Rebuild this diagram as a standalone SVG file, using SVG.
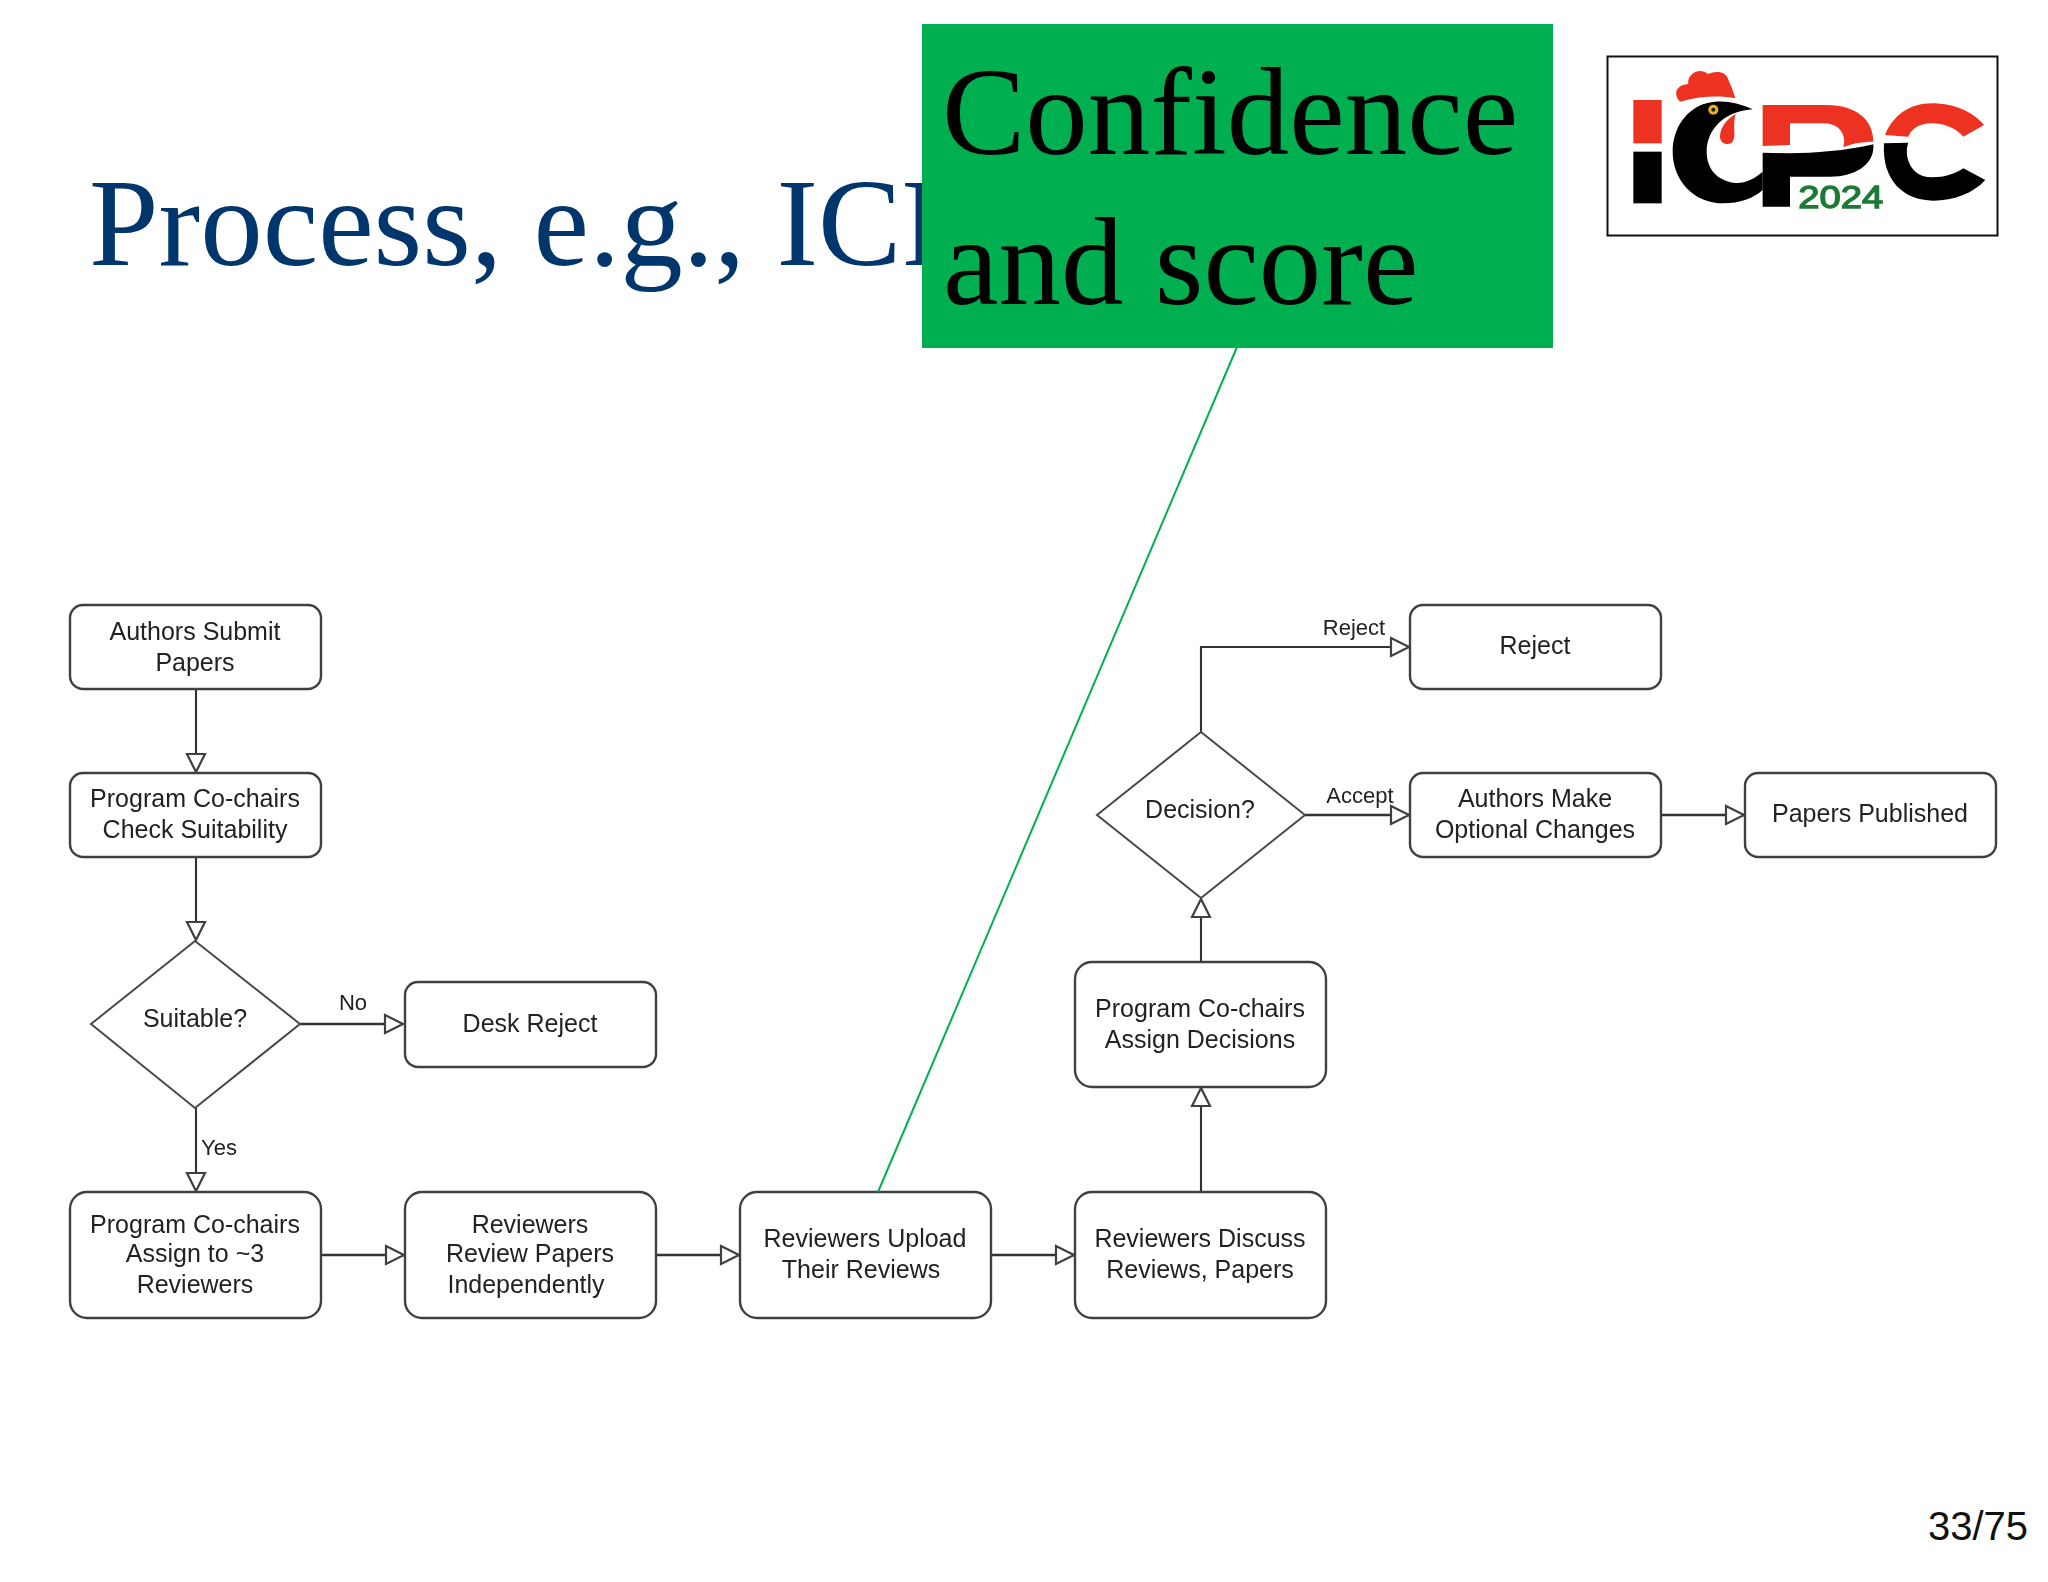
<svg xmlns="http://www.w3.org/2000/svg" width="2048" height="1582" viewBox="0 0 2048 1582">
<style>
.n{fill:#fff;stroke:#404040;stroke-width:2.4}
.d{fill:#fff;stroke:#4a4a4a;stroke-width:2}
.t{font-family:"Liberation Sans",Arial,sans-serif;font-size:25px;fill:#222;text-anchor:middle}
.l{font-family:"Liberation Sans",Arial,sans-serif;font-size:22px;fill:#222;text-anchor:middle}
.c{fill:none;stroke:#333;stroke-width:2.6}
.v{stroke-width:2.1}
.big{font-family:"Liberation Serif","Times New Roman",serif;font-size:125px}
.r{fill:#ee3124}.k{fill:#000}
</style>
<defs>
<marker id="a" viewBox="0 0 22 22" refX="20" refY="11" markerUnits="userSpaceOnUse" markerWidth="22" markerHeight="22" orient="auto" overflow="visible"><path d="M2 2L20 11L2 20Z" fill="#fff" stroke="#404040" stroke-width="2.2"/></marker>
<filter id="soft" x="-5%" y="-5%" width="110%" height="110%"><feGaussianBlur stdDeviation="0.45"/></filter>
<filter id="soft2" x="-5%" y="-5%" width="110%" height="110%"><feGaussianBlur stdDeviation="2"/></filter>
</defs>
<rect width="2048" height="1582" fill="#fff"/>
<text id="title" x="89" y="265" class="big" fill="#00366c">Process, e.g., ICP</text>
<g id="diagram" filter="url(#soft)">
<g id="connectors">
<path class="c v" marker-end="url(#a)" d="M196 689V772"/>
<path class="c v" marker-end="url(#a)" d="M196 857V940"/>
<path class="c" marker-end="url(#a)" d="M300 1024H403"/>
<path class="c v" marker-end="url(#a)" d="M196 1108V1191"/>
<path class="c" marker-end="url(#a)" d="M322 1255H404"/>
<path class="c" marker-end="url(#a)" d="M657 1255H739"/>
<path class="c" marker-end="url(#a)" d="M992 1255H1074"/>
<path class="c v" marker-end="url(#a)" d="M1201 1192V1088"/>
<path class="c v" marker-end="url(#a)" d="M1201 961V899"/>
<path class="c v" marker-end="url(#a)" d="M1201 732V647H1409"/>
<path class="c" marker-end="url(#a)" d="M1305 815H1409"/>
<path class="c" marker-end="url(#a)" d="M1662 815H1744"/>
<text class="l" x="353" y="1010">No</text>
<text class="l" x="219" y="1155">Yes</text>
<text class="l" x="1354" y="635">Reject</text>
<text class="l" x="1360" y="803">Accept</text>
</g>
<g id="n-submit"><rect class="n" x="70" y="605" width="251" height="84" rx="13"/><text class="t" x="195" y="640">Authors Submit</text><text class="t" x="195" y="671">Papers</text></g>
<g id="n-check"><rect class="n" x="70" y="773" width="251" height="84" rx="13"/><text class="t" x="195" y="807">Program Co-chairs</text><text class="t" x="195" y="838">Check Suitability</text></g>
<g id="n-suitable"><path class="d" d="M195 941L300 1024L195 1108L91 1024Z"/><text class="t" x="195" y="1027">Suitable?</text></g>
<g id="n-desk"><rect class="n" x="405" y="982" width="251" height="85" rx="13"/><text class="t" x="530" y="1032">Desk Reject</text></g>
<g id="n-assign"><rect class="n" x="70" y="1192" width="251" height="126" rx="17"/><text class="t" x="195" y="1233">Program Co-chairs</text><text class="t" x="195" y="1262">Assign to ~3</text><text class="t" x="195" y="1293">Reviewers</text></g>
<g id="n-review"><rect class="n" x="405" y="1192" width="251" height="126" rx="17"/><text class="t" x="530" y="1233">Reviewers</text><text class="t" x="530" y="1262">Review Papers</text><text class="t" x="526" y="1293">Independently</text></g>
<g id="n-upload"><rect class="n" x="740" y="1192" width="251" height="126" rx="17"/><text class="t" x="865" y="1247">Reviewers Upload</text><text class="t" x="861" y="1278">Their Reviews</text></g>
<g id="n-discuss"><rect class="n" x="1075" y="1192" width="251" height="126" rx="17"/><text class="t" x="1200" y="1247">Reviewers Discuss</text><text class="t" x="1200" y="1278">Reviews, Papers</text></g>
<g id="n-decisions"><rect class="n" x="1075" y="962" width="251" height="125" rx="17"/><text class="t" x="1200" y="1017">Program Co-chairs</text><text class="t" x="1200" y="1048">Assign Decisions</text></g>
<g id="n-decision"><path class="d" d="M1201 732L1305 815L1201 898L1097 815Z"/><text class="t" x="1200" y="818">Decision?</text></g>
<g id="n-reject"><rect class="n" x="1410" y="605" width="251" height="84" rx="13"/><text class="t" x="1535" y="654">Reject</text></g>
<g id="n-optional"><rect class="n" x="1410" y="773" width="251" height="84" rx="13"/><text class="t" x="1535" y="807">Authors Make</text><text class="t" x="1535" y="838">Optional Changes</text></g>
<g id="n-published"><rect class="n" x="1745" y="773" width="251" height="84" rx="13"/><text class="t" x="1870" y="822">Papers Published</text></g>
</g>
<line id="callout-line" x1="1237" y1="347" x2="878" y2="1192" stroke="#00b050" stroke-width="2"/>
<g id="callout"><rect x="922" y="24" width="631" height="324" fill="#00b050"/>
<text class="big" x="942" y="154" fill="#000">Confidence</text>
<text class="big" x="943" y="304" fill="#000">and score</text></g>
<g id="logo">
<rect x="1607.500" y="56.500" width="390" height="179" fill="#fff" stroke="#111" stroke-width="2"/>
<g transform="translate(1580 40) scale(.33333)" filter="url(#soft2)">
<rect class="r" x="160" y="180" width="85" height="130"/>
<rect class="k" x="160" y="335" width="85" height="155"/>
<path class="r" d="M300 185C280 165 285 135 325 132C320 105 355 78 385 102C405 92 440 92 446 122C455 140 462 160 466 175C420 165 355 168 300 185Z"/>
<path class="k" d="M518 208C470 185 420 178 380 190C320 205 278 265 278 335C278 420 340 490 430 490C480 490 520 475 548 450V395C520 420 490 432 460 428C410 420 380 385 380 335C380 280 420 215 518 208Z"/>
<path class="r" d="M468 222C440 235 420 265 420 290C420 308 440 318 455 308C472 292 455 250 468 222Z"/>
<circle cx="400" cy="209" r="15" fill="#e8b020"/><circle cx="400" cy="209" r="6" fill="#222"/>
<path class="r" d="M548 195H740C830 195 880 240 880 305C840 305 810 312 790 322C800 285 780 250 730 250H630V315L548 318Z"/>
<path class="k" d="M548 338L630 340C700 340 800 332 880 313C885 370 830 410 750 410H630V500H548Z"/>
<path class="r" d="M915 285C940 225 990 190 1055 190C1120 190 1180 215 1212 255L1150 290C1125 262 1090 250 1055 250C1020 250 995 265 985 290Z"/>
<path class="k" d="M912 310L985 308C972 340 985 410 1055 412C1095 412 1125 402 1150 385L1216 420C1180 460 1120 482 1060 482C970 482 905 420 912 310Z"/>
<text x="655" y="503" font-family="'Liberation Sans',Arial,sans-serif" font-size="96" textLength="255" lengthAdjust="spacingAndGlyphs" fill="#1f7a35" stroke="#1f7a35" stroke-width="4">2024</text>
</g></g>
<text id="page" x="2028" y="1540" font-family="'Liberation Sans',Arial,sans-serif" font-size="40" text-anchor="end" fill="#111">33/75</text>
</svg>
